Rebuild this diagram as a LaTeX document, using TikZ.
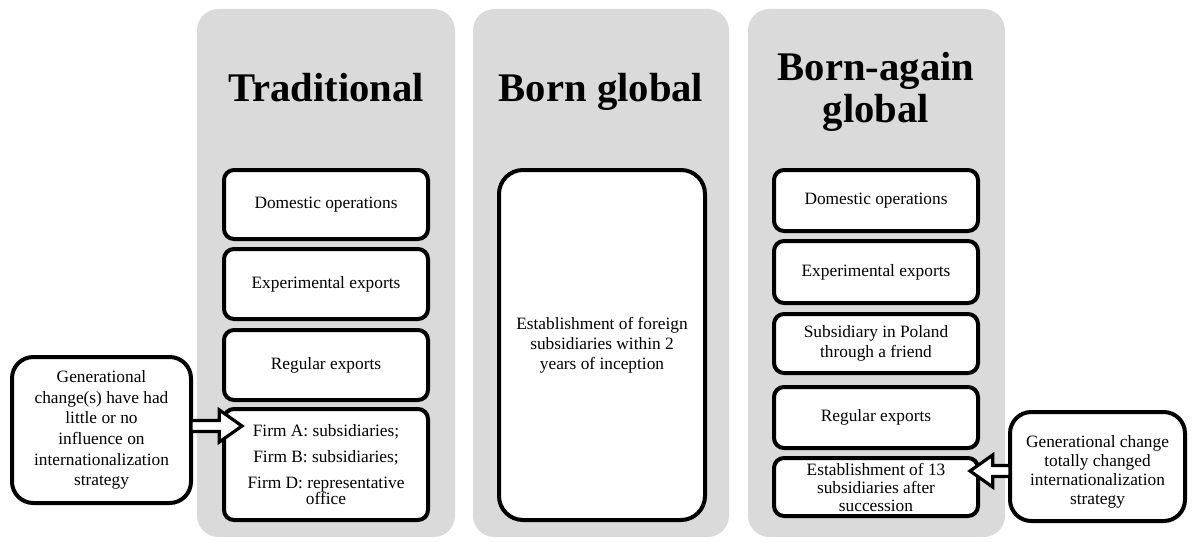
\documentclass[tikz,border=0pt]{standalone}
\usepackage{fontspec}
\setmainfont{Liberation Serif}
\usepackage{tikz}
\usetikzlibrary{arrows.meta, positioning, calc}
\usepackage{xcolor}
\definecolor{panelGray}{RGB}{218, 218, 218}
\colorlet{panel area}{panelGray}
\colorlet{box edge}{black}
\tikzset{
    panel/.style={fill=panel area, rounded corners=16pt},
    heading/.style={font=\fontsize{30.5}{31}\selectfont\bfseries, align=center},
    stage/.style={draw=box edge, fill=white, line width=3pt, rounded corners=7.5pt,
        outer sep=0pt, inner sep=2pt, minimum width=153pt, align=center,
        font=\fontsize{13}{15}\selectfont},
    note/.style={draw=box edge, fill=white, line width=3pt, rounded corners=16pt,
        outer sep=0pt, inner sep=2pt, align=center, font=\fontsize{13}{15.5}\selectfont},
    blockarrow/.style={draw=box edge, fill=white, line width=2.4pt, line join=miter,
        to path={let \p1=(\tikztostart), \p2=(\tikztotarget), \n1={sign(\x2-\x1)} in
            ($(\p1)+(0,-5.5)$) -- ($(\p2)+({-17*\n1},-5.5)$) -- ($(\p2)+({-17*\n1},-16)$)
            -- (\p2) -- ($(\p2)+({-17*\n1},16)$) -- ($(\p2)+({-17*\n1},5.5)$)
            -- ($(\p1)+(0,5.5)$) -- cycle}}
}

\begin{document}
\begin{tikzpicture}[x=0.75pt, y=-0.75pt]
    % Keep the page at the size of the figure
    \useasboundingbox (0,0) rectangle (1192,542);

    % Draw the three grey columns
    \fill[panel] (197,9) rectangle (455,537);
    \fill[panel] (473,9) rectangle (729,537);
    \fill[panel] (748,9) rectangle (1005,537);

    % Column headings
    \node[heading, anchor=base] (tradTitle) at (326,102) {Traditional};
    \node[heading, anchor=base] (bornTitle) at (601,102) {Born global};
    \node[heading] (againTitle) at (876,92) {Born-again\\global};

    % Stages of the traditional path
    \node[stage, minimum height=51.75pt] (tradDom) at (326,204.5) {Domestic operations};
    \node[stage, minimum height=52.5pt] (tradExp) at (326,284) {Experimental exports};
    \node[stage, minimum height=52.5pt] (tradReg) at (326,365) {Regular exports};
    \node[stage, minimum height=83.25pt, font=\fontsize{13}{12.5}\selectfont] (tradFirm) at (326,464.5)
        {Firm A: subsidiaries;\\[7pt] Firm B: subsidiaries;\\[7pt] Firm D: representative\\ office};

    % The born global path
    \node[stage, minimum width=154.5pt, minimum height=262.5pt, rounded corners=18pt] (bornEst) at (602,345)
        {Establishment of foreign\\ subsidiaries within 2\\ years of inception};

    % Stages of the born-again global path
    \node[stage, minimum height=45.75pt] (againDom) at (876,200.5) {Domestic operations};
    \node[stage, minimum height=46.5pt] (againExp) at (876,272) {Experimental exports};
    \node[stage, minimum height=44.25pt] (againSub) at (876,343.5) {Subsidiary in Poland\\ through a friend};
    \node[stage, minimum height=45.75pt] (againReg) at (876,417.5) {Regular exports};
    \node[stage, minimum height=43.5pt, font=\fontsize{13}{13.5}\selectfont] (againEst) at (876,487)
        {Establishment of 13\\ subsidiaries after\\ succession};

    % Notes on generational change
    \node[note, minimum width=134.25pt, minimum height=109.5pt] (genTrad) at (101.5,430)
        {Generational\\ change(s) have had\\ little or no\\ influence on\\ internationalization\\ strategy};
    \node[note, minimum width=131.25pt, minimum height=81.75pt, font=\fontsize{13}{14.25}\selectfont] (genAgain) at (1097.5,466.5)
        {\rule{0pt}{17pt}Generational change\\ totally changed\\ internationalization\\ strategy};

    % Block arrows
    \coordinate (tradStart) at ($(genTrad.east)+(0,-4)$);
    \coordinate (tradTip) at ($(tradStart -| tradFirm.west)+(18,0)$);
    \draw[blockarrow] (tradStart) to (tradTip);
    \coordinate (againStart) at ($(genAgain.west)+(0,4.5)$);
    \coordinate (againTip) at ($(againStart -| againEst.east)+(-8,0)$);
    \draw[blockarrow] (againStart) to (againTip);
\end{tikzpicture}
\end{document}
